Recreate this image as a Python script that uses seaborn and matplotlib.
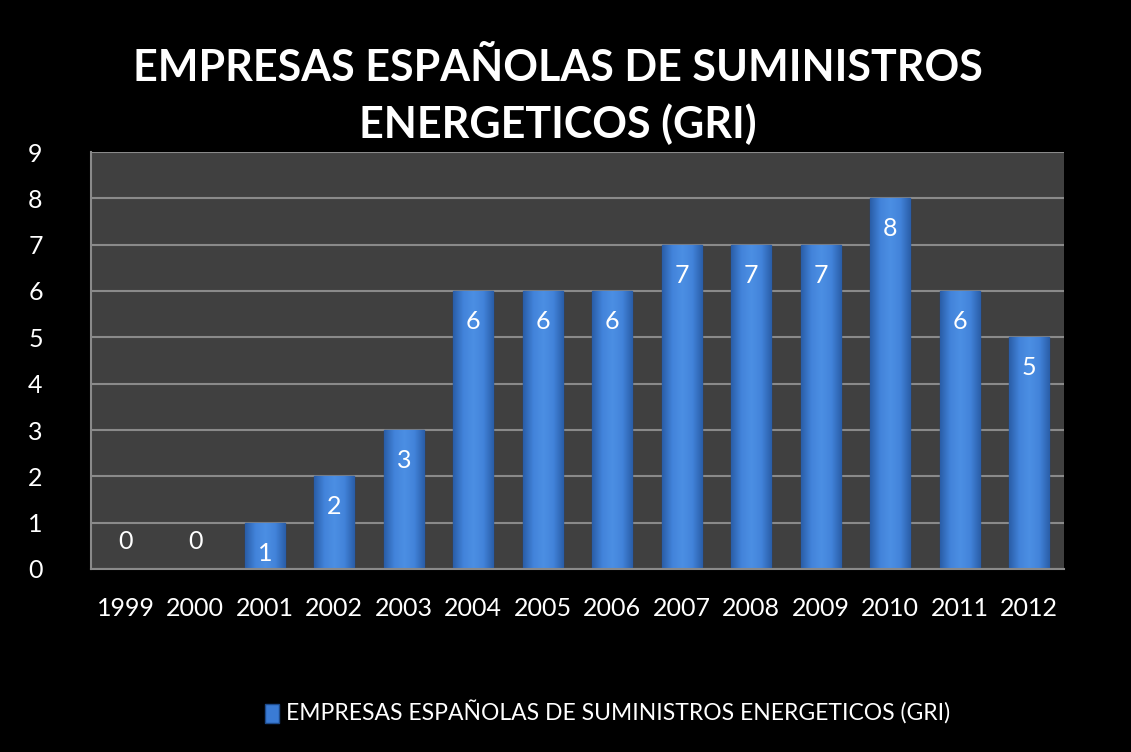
import matplotlib
matplotlib.use("Agg")
import matplotlib.pyplot as plt
import seaborn as sns
import pandas as pd
import numpy as np
from matplotlib.patches import Patch
from matplotlib.colors import LinearSegmentedColormap

# ---- data
years = ["1999", "2000", "2001", "2002", "2003", "2004", "2005",
         "2006", "2007", "2008", "2009", "2010", "2011", "2012"]
empresas = [0, 0, 1, 2, 3, 6, 6, 6, 7, 7, 7, 8, 6, 5]
serie = "EMPRESAS ESPAÑOLAS DE SUMINISTROS ENERGETICOS (GRI)"
titulo = "EMPRESAS ESPAÑOLAS DE SUMINISTROS\nENERGETICOS (GRI)"

df = pd.DataFrame({"year": years, "n": empresas})

sns.set_style("dark")
plt.rcParams["font.family"] = ["Lato", "DejaVu Sans"]

fig = plt.figure(figsize=(11.31, 7.52), dpi=100, facecolor="black")
ax = fig.add_axes([91 / 1131, 1 - 569 / 752, (1064 - 91) / 1131, (569 - 152) / 752])
ax.set_facecolor("#404040")

bar_col = "#3a7bd5"
sns.barplot(data=df, x="year", y="n", color=bar_col, width=0.58,
            edgecolor="#1d4a8a", linewidth=1, saturation=1, ax=ax)

ax.set_ylim(0, 9)
ax.set_xlim(-0.5, len(years) - 0.5)
ax.set_yticks(range(0, 10))
ax.grid(axis="y", color="#8a8a8a", linewidth=1.5)
ax.grid(axis="x", visible=False)
ax.set_axisbelow(True)
for s in ["top", "right"]:
    ax.spines[s].set_visible(False)
for s in ["left", "bottom"]:
    ax.spines[s].set_visible(True)
    ax.spines[s].set_color("#8a8a8a")
    ax.spines[s].set_linewidth(1.5)

# degradado horizontal en las barras (efecto bisel)
cmap = LinearSegmentedColormap.from_list("bisel", ["#2a5ea8", "#4283da", "#4c8fe3", "#4283da", "#2a5ea8"])
grad = np.linspace(0, 1, 64).reshape(1, -1)
for p in ax.patches:
    if p.get_height() <= 0:
        continue
    x0, y0 = p.get_x(), p.get_y()
    im = ax.imshow(grad, cmap=cmap, aspect="auto", zorder=p.get_zorder() + 0.1,
                   extent=(x0, x0 + p.get_width(), y0, y0 + p.get_height()))
    im.set_clip_path(p)
ax.set_xlim(-0.5, len(years) - 0.5)
ax.set_ylim(0, 9)

ax.tick_params(colors="white", labelsize=18, length=0)
ax.tick_params(axis="y", pad=40)
ax.tick_params(axis="x", pad=20)
for t in ax.get_yticklabels():
    t.set_horizontalalignment("center")
ax.set_xlabel("")
ax.set_ylabel("")

# etiquetas dentro de las barras
for i, v in enumerate(empresas):
    off = -22 if v > 0 else 20
    ax.annotate(str(v), (i, v), xytext=(0, off), textcoords="offset points",
                ha="center", va="center", color="white", fontsize=18, zorder=5)

fig.text(0.493, 0.872, titulo, ha="center", va="center", color="white",
         fontsize=31, fontweight="bold", linespacing=1.45)

leg = fig.legend(handles=[Patch(facecolor=bar_col, edgecolor="#1d4a8a")],
                 labels=[serie], loc="center", bbox_to_anchor=(0.537, 0.052),
                 frameon=False, fontsize=16.5, labelcolor="white",
                 handlelength=0.6, handleheight=0.9, handletextpad=0.3)

fig.savefig("out.png", dpi=100, facecolor="black")
